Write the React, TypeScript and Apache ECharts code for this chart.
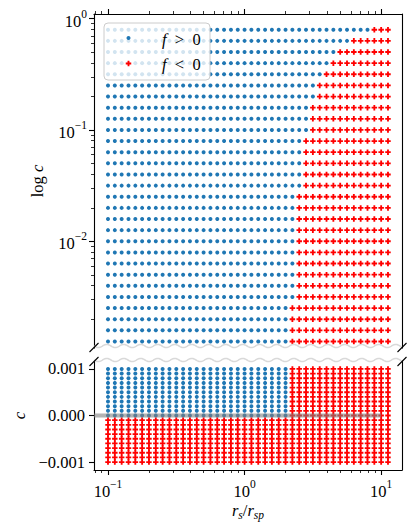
import React, { useEffect, useRef } from 'react';
import * as echarts from 'echarts';

// r_s / r_sp grid (columns)
const rsValues = [
  0.1, 0.1122, 0.1259, 0.1413, 0.1585, 0.1778, 0.1995, 0.2239, 0.2512, 0.2818,
  0.3162, 0.3548, 0.3981, 0.4467, 0.5012, 0.5623, 0.631, 0.7079, 0.7943, 0.8913,
  1.0, 1.122, 1.259, 1.413, 1.585, 1.778, 1.995, 2.239, 2.512, 2.818,
  3.162, 3.548, 3.981, 4.467, 5.012, 5.623, 6.31, 7.079, 7.943, 8.913,
  10.0, 11.22,
];
// c values of the upper (log) panel, top to bottom
const cTop = [
  0.7943, 0.631, 0.5012, 0.3981, 0.3162, 0.2512, 0.1995, 0.1585, 0.1259, 0.1,
  0.07943, 0.0631, 0.05012, 0.03981, 0.03162, 0.02512, 0.01995, 0.01585, 0.01259, 0.01,
  0.007943, 0.00631, 0.005012, 0.003981, 0.003162, 0.002512, 0.001995, 0.001585, 0.001259,
];
// r_s/r_sp where f changes sign, per row of the upper panel
const rsZeroTop = [
  8.4, 6.0, 4.7, 4.2, 3.8, 3.35, 3.35, 3.0, 3.0, 3.0,
  2.65, 2.65, 2.65, 2.65, 2.65, 2.4, 2.4, 2.4, 2.4, 2.4,
  2.4, 2.4, 2.4, 2.4, 2.4, 2.1, 2.1, 2.1, 2.1,
];
// c values of the lower (linear) panel
const cBottom = [
  0.001, 0.0009, 0.0008, 0.0007, 0.0006, 0.0005, 0.0004, 0.0003, 0.0002, 0.0001, 0,
  -0.0001, -0.0002, -0.0003, -0.0004, -0.0005, -0.0006, -0.0007, -0.0008, -0.0009, -0.001,
];
const rsZeroBottom = 2.1; // sign change for c >= 0; c < 0 is always f < 0

const xMajorTicks = [0.1, 1, 10];
const xMinorTicks = [0.08, 0.09, 0.2, 0.3, 0.4, 0.5, 0.6, 0.7, 0.8, 0.9, 2, 3, 4, 5, 6, 7, 8, 9];
const yTopMajorTicks = [0.01, 0.1, 1];
const yTopMinorTicks = [
  0.002, 0.003, 0.004, 0.005, 0.006, 0.007, 0.008, 0.009,
  0.02, 0.03, 0.04, 0.05, 0.06, 0.07, 0.08, 0.09,
  0.2, 0.3, 0.4, 0.5, 0.6, 0.7, 0.8, 0.9,
];
const yBottomTicks = [-0.001, 0, 0.001];

const xMin = 0.07898;
const xMax = 14.21;
const yTopMin = 0.0011;
const yTopMax = 1.1;
const yBotMin = -0.00117;
const yBotMax = 0.00117;
const zeroLineEnd = 10;

const FONT = "'Liberation Serif', 'DejaVu Serif', serif";
const FS = 16.5;
const BLUE = '#1f77b4';
const RED = '#ff0000';
const PLUS = 'path://M1,0H2V1H3V2H2V3H1V2H0V1H1Z';

const G0 = { left: 94, top: 14, width: 308, height: 334 };
const G1 = { left: 94, top: 361, width: 308, height: 109 };

function pow10Label(v: number) {
  const e = Math.round(Math.log10(v));
  const s = e < 0 ? '\u2212' + -e : String(e);
  return '{b|10}{s|' + s + '}';
}
const powRich = {
  b: { fontFamily: FONT, fontSize: FS, lineHeight: 22, verticalAlign: 'bottom', color: '#000' },
  s: { fontFamily: FONT, fontSize: 11.5, lineHeight: 13, verticalAlign: 'top', color: '#000' },
};

const hidden = { show: false };

function wave(y0: number) {
  const pts: number[][] = [];
  for (let x = G0.left; x <= G0.left + G0.width; x += 1) {
    pts.push([x, y0 + 1.6 * Math.sin(((x - G0.left) / 17) * 2 * Math.PI)]);
  }
  return pts;
}

export default function App() {
  const ref = useRef<HTMLDivElement>(null);
  useEffect(() => {
    if (!ref.current) return;
    const chart = echarts.init(ref.current, null, { renderer: 'svg' });

    const topBlue: number[][] = [];
    const topRed: number[][] = [];
    cTop.forEach((c, j) =>
      rsValues.forEach((rs) => (rs < rsZeroTop[j] ? topBlue : topRed).push([rs, c]))
    );
    const botBlue: number[][] = [];
    const botRed: number[][] = [];
    cBottom.forEach((c) =>
      rsValues.forEach((rs) => (c >= 0 && rs < rsZeroBottom ? botBlue : botRed).push([rs, c]))
    );

    const yBreakTop = G0.top + G0.height;
    const yBreakBot = G1.top;
    const xl = G0.left;
    const xr = G0.left + G0.width;
    const diag = (x: number, y: number) => ({
      type: 'line',
      shape: { x1: x - 4.5, y1: y + 4.5, x2: x + 4.5, y2: y - 4.5 },
      style: { stroke: '#000', lineWidth: 1.1 },
      z: 20,
    });
    const plusPts = (cx: number, cy: number, s: number) => {
      const a = s / 6;
      const b = s / 2;
      return [
        [cx - a, cy - b], [cx + a, cy - b], [cx + a, cy - a], [cx + b, cy - a],
        [cx + b, cy + a], [cx + a, cy + a], [cx + a, cy + b], [cx - a, cy + b],
        [cx - a, cy + a], [cx - b, cy + a], [cx - b, cy - a], [cx - a, cy - a],
      ];
    };

    const axisBase = {
      splitLine: hidden,
      axisLine: { show: false, onZero: false },
      axisLabel: hidden,
      axisTick: hidden,
    };
    const spine = { show: true, onZero: false, lineStyle: { color: '#000', width: 1.1 } };
    const legendRich = { i: { fontFamily: FONT, fontSize: FS, fontStyle: 'italic', fill: '#000' } };

    chart.setOption({
      animation: false,
      grid: [
        { ...G0, containLabel: false },
        { ...G1, containLabel: false },
      ],
      xAxis: [
        {
          ...axisBase, type: 'log', gridIndex: 0, position: 'top', min: xMin, max: xMax,
          axisLine: spine,
          axisTick: { show: true, customValues: xMajorTicks, length: 5, lineStyle: { color: '#000', width: 1.1 } },
        },
        {
          ...axisBase, type: 'log', gridIndex: 0, position: 'top', min: xMin, max: xMax,
          axisTick: { show: true, customValues: xMinorTicks, length: 3, lineStyle: { color: '#000', width: 0.8 } },
        },
        {
          ...axisBase, type: 'log', gridIndex: 1, position: 'bottom', min: xMin, max: xMax,
          axisLine: spine,
          axisTick: { show: true, customValues: xMajorTicks, length: 5, lineStyle: { color: '#000', width: 1.1 } },
          axisLabel: {
            show: true, customValues: xMajorTicks, margin: 8, formatter: pow10Label, rich: powRich,
          },
          name: '{i|r}{sub|s}{n|/}{i|r}{sub|sp}',
          nameLocation: 'middle',
          nameGap: 29,
          nameTextStyle: {
            rich: {
              i: { fontFamily: FONT, fontSize: FS, fontStyle: 'italic', lineHeight: 22, color: '#000' },
              n: { fontFamily: FONT, fontSize: FS, lineHeight: 22, color: '#000' },
              sub: { fontFamily: FONT, fontSize: 11.5, fontStyle: 'italic', lineHeight: 12, verticalAlign: 'bottom', color: '#000' },
            },
          },
        },
        {
          ...axisBase, type: 'log', gridIndex: 1, position: 'bottom', min: xMin, max: xMax,
          axisTick: { show: true, customValues: xMinorTicks, length: 3, lineStyle: { color: '#000', width: 0.8 } },
        },
      ],
      yAxis: [
        {
          ...axisBase, type: 'log', gridIndex: 0, position: 'left', min: yTopMin, max: yTopMax,
          axisLine: spine,
          axisTick: { show: true, customValues: yTopMajorTicks, length: 5, lineStyle: { color: '#000', width: 1.1 } },
          axisLabel: { show: true, customValues: yTopMajorTicks, margin: 7, formatter: pow10Label, rich: powRich },
          name: '{n|log }{i|c}',
          nameLocation: 'middle',
          nameRotate: 90,
          nameGap: 48,
          nameTextStyle: {
            rich: {
              n: { fontFamily: FONT, fontSize: FS, color: '#000' },
              i: { fontFamily: FONT, fontSize: FS, fontStyle: 'italic', color: '#000' },
            },
          },
        },
        {
          ...axisBase, type: 'log', gridIndex: 0, position: 'left', min: yTopMin, max: yTopMax,
          axisTick: { show: true, customValues: yTopMinorTicks, length: 3, lineStyle: { color: '#000', width: 0.8 } },
        },
        {
          ...axisBase, type: 'log', gridIndex: 0, position: 'right', min: yTopMin, max: yTopMax,
          axisLine: spine,
        },
        {
          ...axisBase, type: 'value', gridIndex: 1, position: 'left', min: yBotMin, max: yBotMax,
          axisLine: spine,
          axisTick: { show: true, customValues: yBottomTicks, length: 5, lineStyle: { color: '#000', width: 1.1 } },
          axisLabel: {
            show: true, customValues: yBottomTicks, margin: 9,
            fontFamily: FONT, fontSize: FS, color: '#000',
            formatter: (v: number) => (v < 0 ? '\u2212' : '') + Math.abs(v).toFixed(3),
          },
          name: 'c',
          nameLocation: 'middle',
          nameRotate: 90,
          nameGap: 66,
          nameTextStyle: { fontFamily: FONT, fontSize: FS, fontStyle: 'italic', color: '#000' },
        },
        {
          ...axisBase, type: 'value', gridIndex: 1, position: 'right', min: yBotMin, max: yBotMax,
          axisLine: spine,
        },
      ],
      series: [
        {
          type: 'scatter', xAxisIndex: 0, yAxisIndex: 0, data: topBlue,
          symbol: 'circle', symbolSize: 4, itemStyle: { color: BLUE, opacity: 1 }, z: 2,
        },
        {
          type: 'scatter', xAxisIndex: 0, yAxisIndex: 0, data: topRed,
          symbol: PLUS, symbolSize: 5.5, itemStyle: { color: RED, opacity: 1 }, z: 2,
        },
        {
          type: 'scatter', xAxisIndex: 2, yAxisIndex: 3, data: botBlue,
          symbol: 'circle', symbolSize: 4, itemStyle: { color: BLUE, opacity: 1 }, z: 2,
        },
        {
          type: 'scatter', xAxisIndex: 2, yAxisIndex: 3, data: botRed,
          symbol: PLUS, symbolSize: 5.5, itemStyle: { color: RED, opacity: 1 }, z: 2,
        },
        {
          type: 'line', xAxisIndex: 2, yAxisIndex: 3,
          data: [[xMin, 0], [zeroLineEnd, 0]],
          symbol: 'none', silent: true,
          lineStyle: { color: 'rgba(128,128,128,0.6)', width: 4 },
          z: 3,
        },
      ],
      graphic: [
        { type: 'polyline', shape: { points: wave(yBreakTop - 2) }, style: { stroke: '#d9d9d9', lineWidth: 1.5, fill: null }, z: 15 },
        { type: 'polyline', shape: { points: wave(yBreakBot - 1) }, style: { stroke: '#d9d9d9', lineWidth: 1.5, fill: null }, z: 15 },
        diag(xl, yBreakTop - 0.5),
        diag(xr, yBreakTop - 0.5),
        diag(xl, yBreakBot + 0.5),
        diag(xr, yBreakBot + 0.5),
        {
          type: 'rect', shape: { x: 104, y: 23, width: 106, height: 57, r: 4 },
          style: { fill: 'rgba(255,255,255,0.8)', stroke: '#cccccc', lineWidth: 1 }, z: 30,
        },
        { type: 'circle', shape: { cx: 128.5, cy: 38, r: 2 }, style: { fill: BLUE }, z: 31 },
        { type: 'polygon', shape: { points: plusPts(128.5, 63.5, 5.5) }, style: { fill: RED }, z: 31 },
        {
          type: 'text', x: 162, y: 39, z: 31,
          style: {
            text: '{i|f}\u2002>\u20020', fontFamily: FONT, fontSize: FS, fill: '#000', verticalAlign: 'middle',
            rich: legendRich,
          },
        },
        {
          type: 'text', x: 162, y: 64.5, z: 31,
          style: {
            text: '{i|f}\u2002<\u20020', fontFamily: FONT, fontSize: FS, fill: '#000', verticalAlign: 'middle',
            rich: legendRich,
          },
        },
      ],
    });
    return () => chart.dispose();
  }, []);
  return (
    <div
      ref={ref}
      style={{ position: 'absolute', left: 0, top: 0, width: 416, height: 531, background: '#fff' }}
    />
  );
}
